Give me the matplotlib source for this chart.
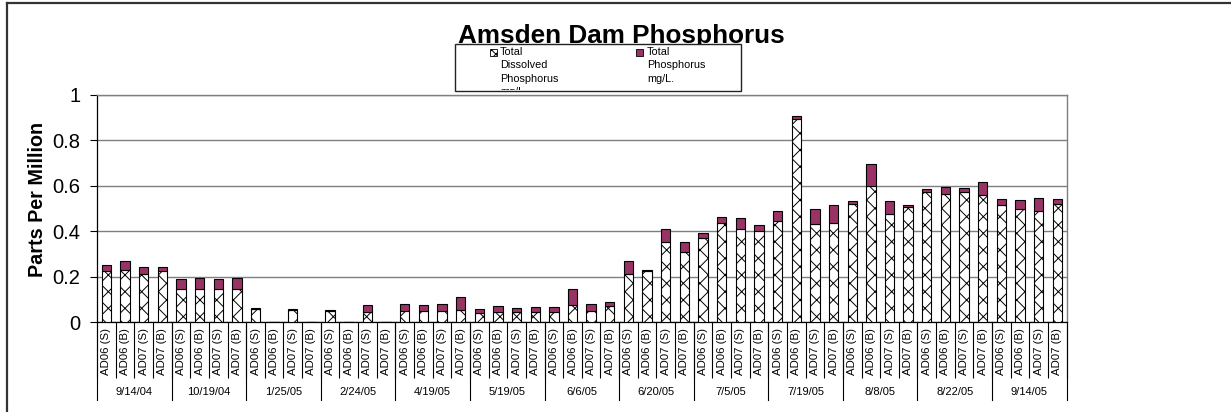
import numpy as np
import matplotlib
matplotlib.use("Agg")
from matplotlib import pyplot as plt
from matplotlib.patches import Rectangle
from matplotlib.lines import Line2D
import matplotlib.transforms as mtransforms

plt.rcParams['font.family'] = ['Liberation Sans', 'DejaVu Sans']
plt.rcParams['hatch.linewidth'] = 0.7

#######################################
# Data
#######################################

dates = ['9/14/04', '10/19/04', '1/25/05', '2/24/05', '4/19/05', '5/19/05', '6/6/05',
         '6/20/05', '7/5/05', '7/19/05', '8/8/05', '8/22/05', '9/14/05']
sites = ['AD06 (S)', 'AD06 (B)', 'AD07 (S)', 'AD07 (B)']

# Total Phosphorus mg/L (top of each bar)
total_p = [0.250, 0.268, 0.244, 0.242,
           0.190, 0.195, 0.190, 0.195,
           0.063, 0.000, 0.058, 0.000,
           0.051, 0.000, 0.073, 0.000,
           0.079, 0.075, 0.081, 0.110,
           0.058, 0.071, 0.062, 0.066,
           0.066, 0.145, 0.079, 0.090,
           0.267, 0.228, 0.407, 0.350,
           0.390, 0.460, 0.456, 0.425,
           0.487, 0.905, 0.495, 0.513,
           0.530, 0.693, 0.530, 0.513,
           0.583, 0.595, 0.588, 0.614,
           0.541, 0.535, 0.544, 0.541]

# Total Dissolved Phosphorus mg/L
dissolved_p = [0.225, 0.230, 0.212, 0.225,
               0.145, 0.145, 0.145, 0.145,
               0.056, 0.000, 0.055, 0.000,
               0.047, 0.000, 0.045, 0.000,
               0.047, 0.049, 0.047, 0.053,
               0.039, 0.045, 0.043, 0.045,
               0.043, 0.073, 0.050, 0.072,
               0.213, 0.226, 0.353, 0.309,
               0.368, 0.435, 0.410, 0.400,
               0.444, 0.893, 0.430, 0.437,
               0.520, 0.597, 0.476, 0.507,
               0.573, 0.561, 0.573, 0.557,
               0.516, 0.497, 0.489, 0.520]

total_p = np.array(total_p)
dissolved_p = np.array(dissolved_p)
extra_p = total_p - dissolved_p

n_sites = len(sites)
n_bars = len(dates) * n_sites
x = np.arange(n_bars)
bar_labels = sites * len(dates)

maroon = '#993366'
grid_gray = '#7f7f7f'

#######################################
# Figure
#######################################

fig = plt.figure(figsize=(12.31, 4.12), dpi=100)
ax = fig.add_axes([0.0788, 0.2184, 0.7877, 0.5522])

ax.bar(x, dissolved_p, width=0.5, color='white', edgecolor='black',
       hatch='xx', linewidth=0.8, zorder=3)
ax.bar(x, extra_p, bottom=dissolved_p, width=0.5, color=maroon,
       edgecolor='black', linewidth=0.8, zorder=3)

ax.set_xlim(-0.5, n_bars - 0.5)
ax.set_ylim(0, 1)
ax.set_yticks([0, 0.2, 0.4, 0.6, 0.8, 1.0])
ax.set_yticklabels(['0', '0.2', '0.4', '0.6', '0.8', '1'])
ax.yaxis.grid(True, color=grid_gray, linewidth=1.0)
ax.set_axisbelow(True)
ax.tick_params(axis='y', labelsize=14.5, length=5, width=0.8, pad=7)

ax.set_xticks(x)
ax.set_xticklabels(bar_labels, rotation=90, fontsize=8.2, va='top', ha='center')
ax.tick_params(axis='x', which='major', length=0, pad=4.5)
ax.set_xticks(np.arange(n_bars + 1) - 0.5, minor=True)
ax.tick_params(axis='x', which='minor', length=40, width=0.8, direction='out')

for side in ['top', 'right']:
    ax.spines[side].set_color(grid_gray)
    ax.spines[side].set_linewidth(1.0)
for side in ['left', 'bottom']:
    ax.spines[side].set_color('black')
    ax.spines[side].set_linewidth(0.9)

# date group labels and longer separators
trans = mtransforms.blended_transform_factory(ax.transData, ax.transAxes)
for g, d in enumerate(dates):
    ax.text(g * n_sites + (n_sites - 1) / 2, -0.308, d, transform=trans,
            ha='center', va='center', fontsize=8)
for g in range(len(dates) + 1):
    xb = g * n_sites - 0.5
    ax.plot([xb, xb], [0, -0.343], transform=trans, color='black',
            linewidth=0.8, clip_on=False)

ax.set_ylabel('Parts Per Million', fontsize=14.2, fontweight='bold')
ax.yaxis.set_label_coords(-0.052, 0.538)

# title
fig.text(621 / 1231, 1 - 43.5 / 412, 'Amsden Dam Phosphorus', ha='center',
         va='baseline', fontsize=18.8, fontweight='bold')

# legend box (drawn by hand to keep the Excel look)
W, H = 1231.0, 412.0
leg = Rectangle((455 / W, 1 - 91 / H), 286 / W, 47 / H, transform=fig.transFigure,
                facecolor='white', edgecolor='#222222', linewidth=1.0, zorder=5)
fig.add_artist(leg)
fig.add_artist(Rectangle((490 / W, 1 - 56 / H), 7 / W, 7 / H, transform=fig.transFigure,
                         facecolor='white', edgecolor='black', hatch='xxxx',
                         linewidth=0.6, zorder=6))
fig.add_artist(Rectangle((636 / W, 1 - 56 / H), 7 / W, 7 / H, transform=fig.transFigure,
                         facecolor=maroon, edgecolor='black', linewidth=0.6, zorder=6))
clip = mtransforms.TransformedBbox(
    mtransforms.Bbox.from_bounds(455 / W, 1 - 90 / H, 286 / W, 46 / H), fig.transFigure)
t1 = fig.text(500 / W, 1 - 47 / H, 'Total\nDissolved\nPhosphorus\nmg/L.', ha='left',
              va='top', fontsize=7.8, linespacing=1.42, zorder=7)
t2 = fig.text(647 / W, 1 - 47 / H, 'Total\nPhosphorus\nmg/L.', ha='left',
              va='top', fontsize=7.8, linespacing=1.42, zorder=7)
for t in (t1, t2):
    t.set_clip_box(clip)
    t.set_clip_on(True)

# outer chart frame (only left and top edges are in view)
fig.add_artist(Line2D([7 / W, 7 / W], [0, 1 - 3 / H], transform=fig.transFigure,
                      color='#333333', linewidth=1.6))
fig.add_artist(Line2D([7 / W, 1], [1 - 3 / H, 1 - 3 / H], transform=fig.transFigure,
                      color='#333333', linewidth=1.6))

plt.savefig('out.png', dpi=100)
